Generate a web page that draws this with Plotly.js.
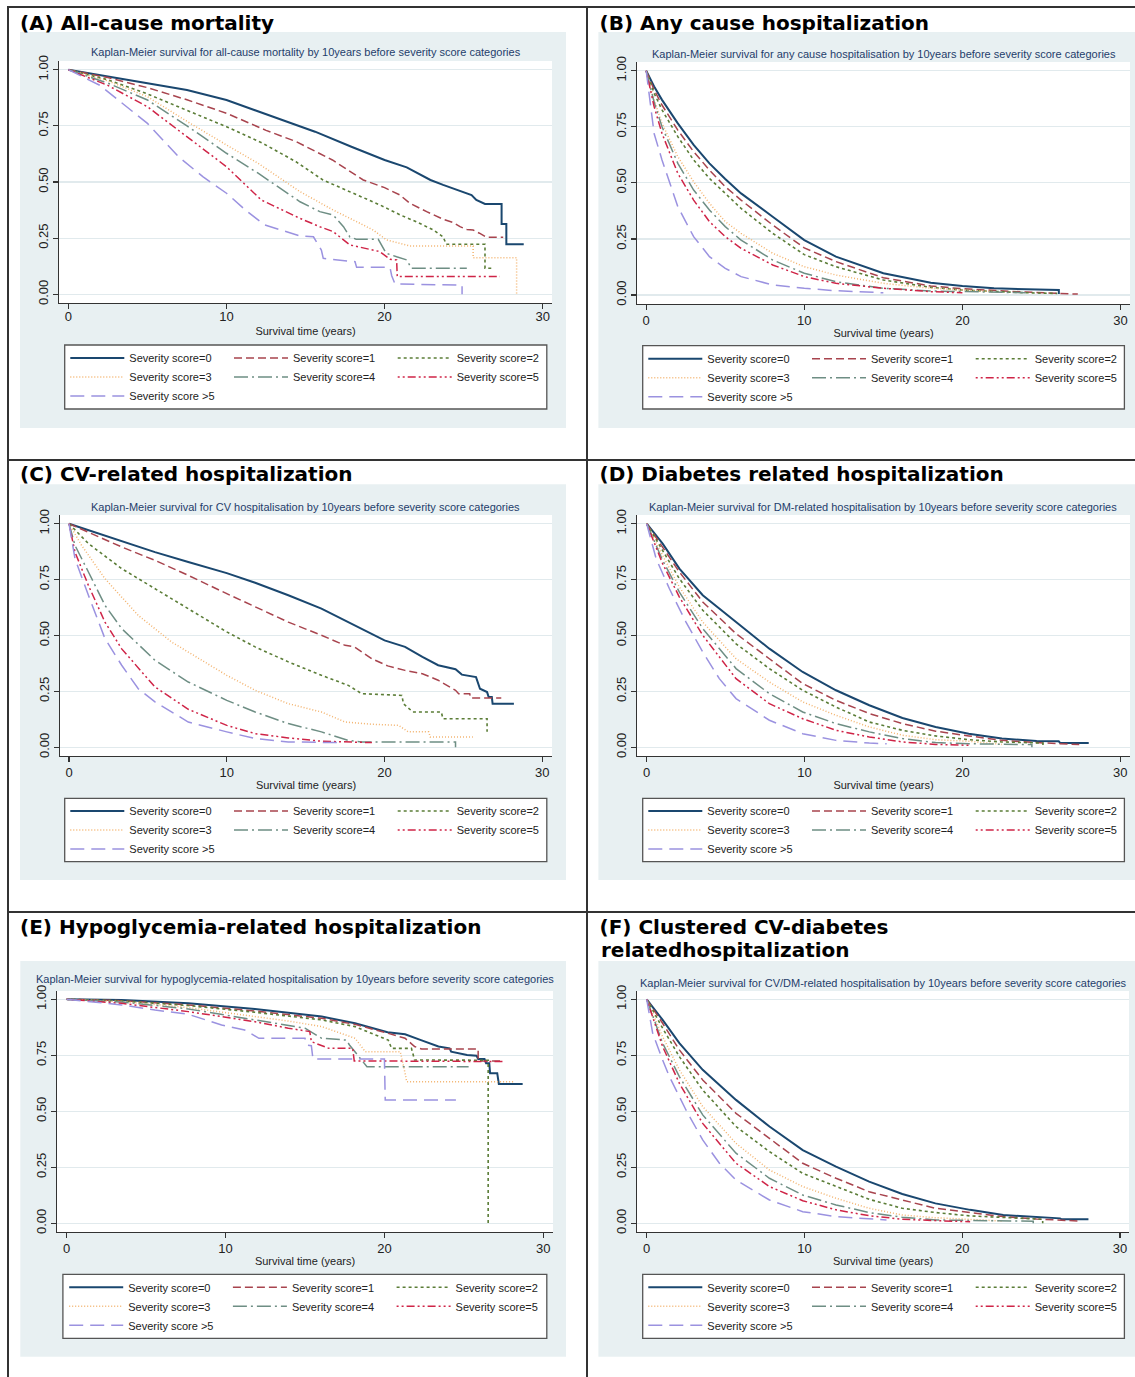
<!DOCTYPE html>
<html>
<head>
<meta charset="utf-8">
<script src="https://cdn.plot.ly/plotly-3.0.1.min.js"></script>
<style>
html,body{margin:0;padding:0;background:#fff;overflow:hidden;}
#page{position:relative;width:1135px;height:1377px;overflow:hidden;background:#fff;}
.cell{position:absolute;}
.ln{position:absolute;background:#333;z-index:10;}
</style>
</head>
<body>
<div id="page">
  <div class="cell" id="pA"></div>
  <div class="cell" id="pB"></div>
  <div class="cell" id="pC"></div>
  <div class="cell" id="pD"></div>
  <div class="cell" id="pE"></div>
  <div class="cell" id="pF"></div>
  <div class="ln" style="left:7px;top:6px;width:2px;height:1371px;"></div>
  <div class="ln" style="left:586px;top:6px;width:2px;height:1371px;"></div>
  <div class="ln" style="left:7px;top:6px;width:1128px;height:2px;"></div>
  <div class="ln" style="left:7px;top:459px;width:1128px;height:2px;"></div>
  <div class="ln" style="left:7px;top:911px;width:1128px;height:2px;"></div>
</div>
<script>
// ---------- series styling ----------
const seriesNames = ['Severity score=0','Severity score=1','Severity score=2','Severity score=3','Severity score=4','Severity score=5','Severity score >5'];
const seriesColors = ['#1a476f','#a8444e','#5b7d37','#f3b36e','#6e8e84','#cf2447','#9b92e0'];
const seriesDash = ['solid','8px,4px','3px,3px','1px,2px','14px,4px,2px,4px','2px,3px,2px,3px,8px,3px','14px,7px'];
const seriesWidth = [2,1.5,1.6,1.5,1.5,1.5,1.5];

const xTickVals = [0,10,20,30];
const yTickVals = [0,0.25,0.5,0.75,1];
const yTickText = ['0.00','0.25','0.50','0.75','1.00'];
const xAxisTitle = 'Survival time (years)';

// ---------- (A) all-cause mortality ----------
const A_t0 = [0,2,5,7.5,10,13.2,15.6,17.9,20,21.4,22.9,23.7,24.6,25.2,25.5,25.8,26.35,27.4,27.4,27.7,27.7,28.8];
const A_s0 = [1,0.976,0.942,0.91,0.865,0.783,0.724,0.657,0.598,0.565,0.509,0.487,0.464,0.452,0.442,0.42,0.402,0.402,0.313,0.313,0.223,0.223];
const A_t1 = [0,2.5,5,7.5,10,12.5,14.4,16.7,18.65,20,20.97,21.6,22.66,23.7,24.35,24.77,25.2,25.6,26.0,26.46,27.5];
const A_s1 = [1,0.965,0.92,0.866,0.806,0.73,0.68,0.598,0.509,0.475,0.442,0.405,0.368,0.334,0.319,0.301,0.289,0.286,0.272,0.254,0.254];
const A_t2 = [0,2.5,5,7.5,10,12.3,14.4,16.1,18.9,19.7,21.0,22.0,23.1,23.7,23.9,26.35,26.35,26.8];
const A_s2 = [1,0.955,0.892,0.82,0.746,0.672,0.59,0.509,0.42,0.398,0.353,0.323,0.286,0.256,0.223,0.223,0.116,0.116];
const A_t3 = [0,2.5,5,7.5,10,12,14.65,16.75,18.44,19.28,20.13,20.97,21.6,25.6,25.6,28.35,28.35];
const A_s3 = [1,0.95,0.88,0.77,0.665,0.583,0.457,0.375,0.316,0.286,0.242,0.227,0.215,0.215,0.163,0.163,0];
const A_t4 = [0,2.5,5,7.5,10,12,14.65,15.9,16.75,17.4,17.8,18.2,19.6,20.1,20.76,21.4,21.7,25.2];
const A_s4 = [1,0.94,0.865,0.75,0.628,0.539,0.412,0.368,0.353,0.301,0.256,0.245,0.245,0.183,0.167,0.153,0.116,0.116];
const A_t5 = [0,2.5,5,7.5,10,12.2,14.65,15.9,16.75,17.8,19.7,20.34,20.76,20.8,27.3];
const A_s5 = [1,0.93,0.835,0.7,0.568,0.42,0.338,0.301,0.279,0.22,0.19,0.156,0.153,0.079,0.079];
const A_t6 = [0,2,5,7,8.5,10,11.2,12.4,14.65,15.5,16.0,16.12,18.13,18.23,20.34,20.45,20.66,24.9,24.9];
const A_s6 = [1,0.93,0.761,0.61,0.524,0.45,0.375,0.309,0.26,0.256,0.197,0.16,0.145,0.12,0.12,0.083,0.046,0.041,0];

// ---------- (B) any cause hospitalization ----------
const B_t0 = [0,0.5,1,2,3,4,5,6,8,10,12,15,18,20,22,26.1,26.1];
const B_s0 = [1,0.93,0.87,0.765,0.669,0.587,0.517,0.453,0.349,0.245,0.171,0.097,0.055,0.04,0.03,0.022,0.004];
const B_t1 = [0,0.5,1,2,3,4,5,6,8,10,12,15,18,20,24,27.3];
const B_s1 = [1,0.915,0.847,0.735,0.639,0.557,0.483,0.423,0.312,0.21,0.149,0.077,0.04,0.028,0.013,0.004];
const B_t2 = [0,0.5,1,2,3,4,5,6,8,10,12,15,18,20,24,26];
const B_s2 = [1,0.9,0.825,0.706,0.602,0.52,0.453,0.386,0.275,0.18,0.126,0.067,0.034,0.022,0.01,0.007];
const B_t3 = [0,0.5,1,2,3,4,5,6,8,10,12,15,18,22];
const B_s3 = [1,0.87,0.765,0.617,0.505,0.409,0.327,0.275,0.186,0.126,0.089,0.052,0.03,0.015];
const B_t4 = [0,0.5,1,2,3,4,5,6,8,10,12,15,18,24];
const B_s4 = [1,0.86,0.75,0.587,0.468,0.379,0.305,0.245,0.156,0.097,0.059,0.03,0.018,0.01];
const B_t5 = [0,0.5,1,2,3,4,5,6,8,10,12,15,18,20];
const B_s5 = [1,0.84,0.72,0.542,0.423,0.327,0.26,0.208,0.134,0.082,0.052,0.03,0.015,0.01];
const B_t6 = [0,0.25,0.5,1,2,3,4,5,6,8,10,12,15];
const B_s6 = [1,0.85,0.72,0.602,0.394,0.26,0.171,0.119,0.082,0.045,0.03,0.019,0.01];

// ---------- (C) CV-related hospitalization ----------
const C_t0 = [0,3.34,5.45,7.56,10,11.8,13.9,16.0,18.1,20.0,21.3,22.4,23.4,24.5,24.9,25.6,25.8,26.05,26.5,26.6,26.8,26.85,28.2];
const C_s0 = [1,0.921,0.873,0.829,0.779,0.736,0.68,0.62,0.545,0.478,0.449,0.404,0.367,0.349,0.325,0.314,0.314,0.262,0.247,0.225,0.225,0.195,0.195];
const C_t1 = [0,3.34,5.45,7.56,10,11.8,13.9,16.0,17.5,18.1,19.2,20.2,21.3,22.4,23.4,24.5,24.7,25.4,25.45,27.4];
const C_s1 = [1,0.896,0.836,0.769,0.687,0.627,0.56,0.501,0.456,0.449,0.396,0.364,0.344,0.329,0.3,0.255,0.24,0.24,0.221,0.221];
const C_t2 = [0,1.23,3.34,5.45,7.56,10,11.8,13.9,16.0,17.7,18.55,21.1,21.2,21.8,23.6,23.7,26.5,26.5];
const C_s2 = [1,0.911,0.799,0.709,0.62,0.516,0.449,0.382,0.322,0.277,0.24,0.232,0.195,0.158,0.158,0.128,0.128,0.069];
const C_t3 = [0,0.8,2.28,4.39,6.5,8.6,10,11.8,13.9,16.0,17.5,19.2,20.9,21.5,22.8,22.9,25.6];
const C_s3 = [1,0.903,0.754,0.59,0.471,0.382,0.322,0.255,0.195,0.158,0.113,0.103,0.098,0.069,0.069,0.046,0.046];
const C_t4 = [0,0.38,1.23,2.28,3.34,5.45,7.56,10,11.8,13.9,16.0,17.7,18.55,24.5,24.5];
const C_s4 = [1,0.903,0.784,0.635,0.531,0.389,0.292,0.21,0.158,0.106,0.069,0.031,0.024,0.024,0];
const C_t5 = [0,0.38,1.23,2.28,3.34,5.45,7.56,10,11.8,13.9,16.0,19.2];
const C_s5 = [1,0.873,0.724,0.56,0.44,0.27,0.17,0.098,0.061,0.042,0.027,0.021];
const C_t6 = [0,0.38,1.23,2.28,3.34,4.39,5.45,7.56,10,11.8,13.9,17.1];
const C_s6 = [1,0.843,0.68,0.486,0.367,0.262,0.203,0.113,0.069,0.039,0.024,0.021];

// ---------- (D) diabetes related hospitalization ----------
const D_t0 = [0,1.01,2.07,3.55,5.66,7.77,9.88,11.99,14.1,16.2,18.3,20.4,22.5,24.7,26.1,26.2,28.0];
const D_s0 = [1,0.911,0.799,0.68,0.56,0.441,0.337,0.255,0.188,0.131,0.091,0.061,0.039,0.028,0.027,0.019,0.019];
const D_t1 = [0,1.01,2.07,3.55,5.66,7.77,9.88,11.99,14.1,16.2,18.3,20.4,22.5,24.7,27.4];
const D_s1 = [1,0.896,0.784,0.65,0.508,0.396,0.285,0.21,0.151,0.106,0.072,0.051,0.031,0.021,0.012];
const D_t2 = [0,1.01,2.07,3.55,5.66,7.77,9.88,11.99,14.1,16.2,18.3,20.4,22.5,25.1,25.1];
const D_s2 = [1,0.881,0.754,0.613,0.463,0.352,0.255,0.18,0.113,0.076,0.051,0.034,0.024,0.019,0];
const D_t3 = [0,1.01,2.07,3.55,5.66,7.77,9.88,11.99,14.1,16.2,18.3,20.4,22.5];
const D_s3 = [1,0.858,0.717,0.56,0.396,0.292,0.203,0.143,0.091,0.054,0.034,0.027,0.013];
const D_t4 = [0,1.01,2.07,3.55,5.66,7.77,9.88,11.99,14.1,16.2,18.3,20.4,24.4,24.4];
const D_s4 = [1,0.836,0.694,0.531,0.352,0.24,0.158,0.106,0.069,0.039,0.021,0.016,0.012,0];
const D_t5 = [0,1.01,2.07,3.55,5.66,7.77,9.88,11.99,14.1,16.2,18.3,20.4];
const D_s5 = [1,0.821,0.672,0.501,0.307,0.195,0.128,0.076,0.046,0.024,0.013,0.009];
const D_t6 = [0,0.6,1.44,2.49,3.55,4.6,5.66,7.77,9.88,11.99,14.1,15.2];
const D_s6 = [1,0.843,0.709,0.56,0.426,0.307,0.218,0.121,0.061,0.031,0.019,0.016];

// ---------- (E) hypoglycemia-related hospitalization ----------
const E_t0 = [0,3.46,7.66,11.85,16.05,18.15,20.2,21.3,22.3,23.4,24.1,24.2,25.2,25.8,25.9,26.3,26.4,26.6,26.65,27.1,27.2,28.7];
const E_s0 = [1,0.997,0.982,0.957,0.923,0.893,0.853,0.844,0.818,0.789,0.781,0.766,0.751,0.748,0.734,0.734,0.714,0.714,0.67,0.67,0.622,0.622];
const E_t1 = [0,3.46,7.66,11.85,16.05,18.15,20.24,21.3,21.9,22.34,25.9,25.9,27.4];
const E_s1 = [1,0.994,0.975,0.948,0.915,0.888,0.848,0.826,0.789,0.778,0.778,0.725,0.725];
const E_t2 = [0,3.46,7.66,11.85,16.05,18.15,20.24,20.45,21.7,21.9,26.53,26.53];
const E_s2 = [1,0.993,0.972,0.942,0.908,0.878,0.818,0.781,0.781,0.729,0.728,0];
const E_t3 = [0,3.46,7.66,11.85,13.95,16.05,18.15,18.8,21.0,21.3,21.4,28.2];
const E_s3 = [1,0.99,0.963,0.923,0.903,0.878,0.826,0.766,0.766,0.67,0.632,0.632];
const E_t4 = [0,3.46,7.66,11.85,15.0,16.05,17.6,17.8,18.15,18.5,18.9,25.3];
const E_s4 = [1,0.988,0.957,0.908,0.871,0.826,0.818,0.796,0.766,0.737,0.699,0.699];
const E_t5 = [0,3.46,7.66,9.75,11.85,13.95,15.3,15.4,16.5,18.0,18.1,27.6];
const E_s5 = [1,0.982,0.945,0.923,0.9,0.871,0.856,0.811,0.781,0.781,0.725,0.722];
const E_t6 = [0,3.46,5.56,7.66,9.75,11.2,12.1,15.0,15.1,15.4,15.5,20.0,20.05,24.5];
const E_s6 = [1,0.975,0.952,0.933,0.885,0.863,0.826,0.826,0.796,0.793,0.734,0.734,0.551,0.551];

// ---------- (F) clustered CV-diabetes related hospitalization ----------
const F_t0 = [0,1.01,2.07,3.55,5.66,7.78,9.89,12.0,14.1,16.2,18.3,20.5,22.6,24.7,26.2,26.3,28.0];
const F_s0 = [1,0.908,0.804,0.685,0.551,0.432,0.327,0.253,0.186,0.131,0.089,0.06,0.037,0.027,0.022,0.018,0.018];
const F_t1 = [0,1.01,2.07,3.55,5.66,7.78,9.89,12.0,14.1,16.2,18.3,20.5,22.6,24.7,27.4];
const F_s1 = [1,0.893,0.774,0.64,0.491,0.379,0.268,0.201,0.141,0.104,0.067,0.048,0.03,0.019,0.01];
const F_t2 = [0,1.01,2.07,3.55,5.66,7.78,9.89,12.0,14.1,16.2,18.3,20.5,22.6,25.1,25.1];
const F_s2 = [1,0.871,0.744,0.595,0.432,0.32,0.223,0.164,0.107,0.067,0.048,0.033,0.025,0.018,0];
const F_t3 = [0,1.01,2.07,3.55,5.66,7.78,9.89,12.0,14.1,16.2,18.3,20.5,22.6];
const F_s3 = [1,0.833,0.685,0.521,0.357,0.238,0.164,0.112,0.067,0.037,0.025,0.018,0.01];
const F_t4 = [0,1.01,2.07,3.55,5.66,7.78,9.89,12.0,14.1,16.2,18.3,20.5,24.5,24.5];
const F_s4 = [1,0.804,0.655,0.484,0.313,0.201,0.126,0.082,0.048,0.027,0.015,0.012,0.009,0];
const F_t5 = [0,1.01,2.07,3.55,5.66,7.78,9.89,12.0,14.1,16.2,18.3,20.5];
const F_s5 = [1,0.789,0.625,0.446,0.268,0.164,0.101,0.06,0.034,0.018,0.012,0.007];
const F_t6 = [0,0.38,1.01,1.44,2.49,3.55,4.61,5.66,7.78,9.89,12.0,14.1,15.2];
const F_s6 = [1,0.848,0.729,0.655,0.506,0.372,0.268,0.193,0.104,0.052,0.03,0.018,0.015];

// ---------- panel texts ----------
const panelTitles = {
  A: ['(A) All-cause mortality'],
  B: ['(B) Any cause hospitalization'],
  C: ['(C) CV-related hospitalization'],
  D: ['(D) Diabetes related hospitalization'],
  E: ['(E) Hypoglycemia-related hospitalization'],
  F: ['(F) Clustered CV-diabetes','relatedhospitalization']
};
const panelSubtitles = {
  A: 'Kaplan-Meier survival for all-cause mortality by 10years before severity score categories',
  B: 'Kaplan-Meier survival for any cause hospitalisation by 10years before severity score categories',
  C: 'Kaplan-Meier survival for CV hospitalisation by 10years before severity score categories',
  D: 'Kaplan-Meier survival for DM-related hospitalisation by 10years before severity score categories',
  E: 'Kaplan-Meier survival for hypoglycemia-related hospitalisation by 10years before severity score categories',
  F: 'Kaplan-Meier survival for CV/DM-related hospitalisation by 10years before severity score categories'
};

// ---------- layout geometry (page pixels) ----------
const FONT = 'Liberation Sans, Arial, Helvetica, sans-serif';
const REGION_BG = '#e8f0f2';
const GRID = '#e1eaed';
const AX = '#333';
const X_PAD = 0.6, Y_PAD = 0.039;

const panels = [
 {key:'A', id:'pA', cell:[8,7,587,460], x0:68.4, x30:542.7, y1:69.7, y0:294.3, gray:[20,32,566,428],
  titleX:20, titleBase:29.5, sub:[306,52.3], legX:65.3, legRow:358, box:[64.7,345,546.8,409], xStand:-4, titleStand:4,
  t:[A_t0,A_t1,A_t2,A_t3,A_t4,A_t5,A_t6], s:[A_s0,A_s1,A_s2,A_s3,A_s4,A_s5,A_s6]},
 {key:'B', id:'pB', cell:[587,7,1135,460], x0:646.2, x30:1120.5, y1:70.7, y0:295.0, gray:[598.4,32,1140,428],
  titleX:599.5, titleBase:29.5, sub:[883.5,54], legX:643.3, legRow:358.7, box:[642.7,345.7,1124.4,409], xStand:-1, titleStand:2,
  t:[B_t0,B_t1,B_t2,B_t3,B_t4,B_t5,B_t6], s:[B_s0,B_s1,B_s2,B_s3,B_s4,B_s5,B_s6]},
 {key:'C', id:'pC', cell:[8,460,587,913], x0:69.0, x30:542.3, y1:523.7, y0:747.3, gray:[20,484.3,566,880],
  titleX:20, titleBase:481, sub:[305.4,506.7], legX:65.3, legRow:811, box:[64.7,798.3,546.8,861.7], xStand:-1, titleStand:2,
  t:[C_t0,C_t1,C_t2,C_t3,C_t4,C_t5,C_t6], s:[C_s0,C_s1,C_s2,C_s3,C_s4,C_s5,C_s6]},
 {key:'D', id:'pD', cell:[587,460,1135,913], x0:646.7, x30:1120.3, y1:523.7, y0:747.3, gray:[598.4,484.3,1140,880],
  titleX:599.5, titleBase:481, sub:[883.4,506.7], legX:643.3, legRow:811, box:[642.7,798.3,1124.4,861.7], xStand:-1, titleStand:2,
  t:[D_t0,D_t1,D_t2,D_t3,D_t4,D_t5,D_t6], s:[D_s0,D_s1,D_s2,D_s3,D_s4,D_s5,D_s6]},
 {key:'E', id:'pE', cell:[8,913,587,1377], x0:66.7, x30:543.3, y1:999.3, y0:1223.3, gray:[20.3,961,566,1356.7],
  titleX:20, titleBase:934.3, sub:[294.9,979], legX:64.2, legRow:1287.3, box:[62.9,1274.3,546.8,1338.3], xStand:-1, titleStand:2,
  t:[E_t0,E_t1,E_t2,E_t3,E_t4,E_t5,E_t6], s:[E_s0,E_s1,E_s2,E_s3,E_s4,E_s5,E_s6]},
 {key:'F', id:'pF', cell:[587,913,1135,1377], x0:646.7, x30:1120.0, y1:999.3, y0:1223.3, gray:[598.4,961,1140,1356.7],
  titleX:599.5, titleBase:934.3, title2Base:956.7, sub:[883.2,983.3], legX:643.3, legRow:1287.3, box:[642.7,1274.3,1124.4,1338.3], xStand:-1, titleStand:2,
  t:[F_t0,F_t1,F_t2,F_t3,F_t4,F_t5,F_t6], s:[F_s0,F_s1,F_s2,F_s3,F_s4,F_s5,F_s6]}
];

function build(p) {
  const [cl, ct, cr, cb] = p.cell;
  const W = cr - cl, H = cb - ct;
  const ppx = (p.x30 - p.x0) / 30, ppy = p.y0 - p.y1;
  const ml = Math.round(p.x0 - X_PAD * ppx - cl);
  const mr = Math.round(cr - (p.x30 + X_PAD * ppx));
  const mt = Math.round(p.y1 - Y_PAD * ppy - ct);
  const mb = Math.round(cb - (p.y0 + Y_PAD * ppy));
  const L = cl + ml, R = cr - mr, T = ct + mt, B = cb - mb;
  const pw = R - L, ph = B - T;
  const xr = [(L - p.x0) / ppx, (R - p.x0) / ppx];
  const yr = [(p.y0 - B) / ppy, (p.y0 - T) / ppy];
  const fx = X => (X - L) / pw, fy = Y => (B - Y) / ph;

  const div = document.getElementById(p.id);
  div.style.left = cl + 'px'; div.style.top = ct + 'px';
  div.style.width = W + 'px'; div.style.height = H + 'px';

  const traces = p.t.map((tt, i) => ({
    type: 'scatter', mode: 'lines', x: tt, y: p.s[i], name: seriesNames[i],
    line: {color: seriesColors[i], width: seriesWidth[i], dash: seriesDash[i]},
    hoverinfo: 'skip'
  }));

  const shapes = [
    {type:'rect', xref:'paper', yref:'paper', layer:'below',
     x0: fx(p.gray[0]), x1: fx(p.gray[2]), y0: fy(p.gray[3]), y1: fy(p.gray[1]),
     fillcolor: REGION_BG, line:{width:0}},
    {type:'rect', xref:'paper', yref:'paper', layer:'below', x0:0, x1:1, y0:0, y1:1,
     fillcolor:'#ffffff', line:{width:0}},
    {type:'rect', xref:'paper', yref:'paper', layer:'below',
     x0: fx(p.box[0]), x1: fx(p.box[2]), y0: fy(p.box[3]), y1: fy(p.box[1]),
     fillcolor:'#ffffff', line:{color:'#555', width:1.3}}
  ];

  const titles = panelTitles[p.key];
  const annotations = [
    {xref:'paper', yref:'paper', x: fx(p.sub[0]), y: fy(p.sub[1]), xanchor:'center', yanchor:'middle',
     showarrow:false, text: panelSubtitles[p.key], borderpad:0,
     font:{family: FONT, size:11, color:'#1f3d6b'}}
  ];
  if (titles.length > 1) {
    annotations.push({xref:'paper', yref:'paper', x: fx(p.titleX), y: fy(p.title2Base - 7),
      xanchor:'left', yanchor:'middle', showarrow:false, text: titles[1], borderpad:0,
      font:{family:'DejaVu Sans', size:20, color:'#000', weight:'bold'}});
  }

  const layout = {
    width: W, height: H,
    margin: {l: ml, r: mr, t: mt, b: mb, pad: 0, autoexpand: false},
    paper_bgcolor: '#ffffff', plot_bgcolor: '#ffffff',
    showlegend: true, hovermode: false,
    title: {text: titles[0], xref:'container', yref:'container',
      x: (p.titleX - cl) / W, xanchor:'left', y: 1 - (p.titleBase - ct) / H, yanchor:'bottom',
      pad:{t:0,b:0,l:0,r:0},
      font:{family:'DejaVu Sans', size:20, color:'#000', weight:'bold'}},
    xaxis: {range: xr, tickvals: xTickVals, ticks:'outside', ticklen:5, tickwidth:1.2, tickcolor:AX,
      showline:true, linecolor:AX, linewidth:1.2, showgrid:false, zeroline:false,
      ticklabelstandoff: p.xStand,
      tickfont:{family: FONT, size:13, color:'#222'},
      title:{text: xAxisTitle, standoff: p.titleStand, font:{family: FONT, size:11, color:'#222'}}},
    yaxis: {range: yr, tickvals: yTickVals, ticktext: yTickText, tickangle:-90,
      ticks:'outside', ticklen:5, tickwidth:1.2, tickcolor:AX,
      showline:true, linecolor:AX, linewidth:1.2, showgrid:true, gridcolor:GRID, gridwidth:1.2, zeroline:false,
      tickfont:{family: FONT, size:13, color:'#222'}},
    legend: {orientation:'h', x: fx(p.legX), xanchor:'left', y: fy(p.legRow - 14.5), yanchor:'top',
      bgcolor:'rgba(0,0,0,0)', borderwidth:0, itemwidth:54, entrywidth:94.7, entrywidthmode:'pixels',
      traceorder:'normal', font:{family: FONT, size:11, color:'#222'}},
    shapes: shapes, annotations: annotations
  };
  Plotly.newPlot(div, traces, layout, {staticPlot:true, displayModeBar:false});
}

panels.forEach(build);
</script>
</body>
</html>
